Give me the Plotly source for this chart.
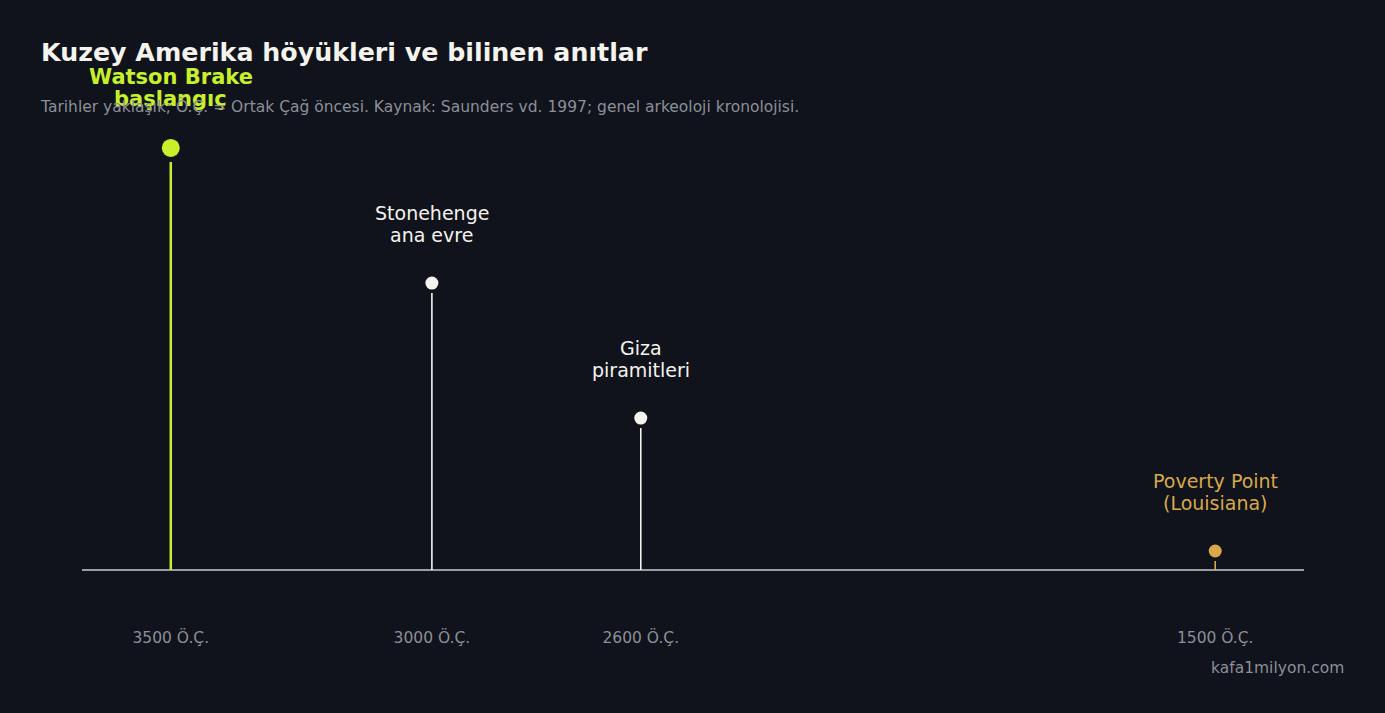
import plotly.graph_objects as go

# ---- data ----
sites = ["Watson Brake<br>başlangıç", "Stonehenge<br>ana evre", "Giza<br>piramitleri", "Poverty Point<br>(Louisiana)"]
years_bce = [3500, 3000, 2600, 1500]
levels = [1.0, 0.68, 0.36, 0.045]
tick_years = [3500, 3000, 2600, 1500]
tick_labels = ["3500 Ö.Ç.", "3000 Ö.Ç.", "2600 Ö.Ç.", "1500 Ö.Ç."]
colors = ["#c8f02a", "#f5f3ee", "#f5f3ee", "#d9a84a"]

BG = "#10131b"
W, H = 1385, 713
ML, MR, MT, MB = 82, 81, 100, 87
plot_w = W - ML - MR
plot_h = H - MT - MB
y0, y1 = -0.1327, 1.1137
px_per_unit = plot_h / (y1 - y0)


def px_to_paper(px, py):
    return (px - ML) / plot_w, (H - MB - py) / plot_h


xs = [-y for y in years_bce]
fig = go.Figure()

# stems
for i, (x, lv, c) in enumerate(zip(xs, levels, colors)):
    big = i == 0
    gap_px = 14 if big else 10
    top = lv - gap_px / px_per_unit
    if top < 0:
        top = lv
    fig.add_shape(type="line", x0=x, x1=x, y0=0, y1=top, xref="x", yref="y",
                  line=dict(color=c, width=2.5 if big else 1.6), layer="above")

# baseline
fig.add_shape(type="line", x0=0, x1=1, xref="paper", y0=0, y1=0, yref="y",
              line=dict(color="#9a9ca3", width=2), layer="below")

# dots
fig.add_trace(go.Scatter(
    x=xs, y=levels, mode="markers",
    marker=dict(size=[18, 13, 13, 13], color=colors, opacity=1, line=dict(width=0)),
    hoverinfo="skip", showlegend=False))

# labels (one annotation per line for tight line spacing)
for i, (x, lv, c, s) in enumerate(zip(xs, levels, colors, sites)):
    big = i == 0
    lines = s.split("<br>")
    n = len(lines)
    base = 49 if big else 48
    for k, ln in enumerate(lines):
        fig.add_annotation(x=x, y=lv, xref="x", yref="y", text=f"<b>{ln}</b>" if big else ln,
                           showarrow=False, yanchor="middle", yshift=base + 22 * (n - 1 - k),
                           font=dict(family="DejaVu Sans", size=21 if big else 19, color=c),
                           align="center")

# title / subtitle / watermark
tx, ty = px_to_paper(39, 52)
fig.add_annotation(x=tx, y=ty, xref="paper", yref="paper", xanchor="left", yanchor="middle",
                   text="<b>Kuzey Amerika höyükleri ve bilinen anıtlar</b>", showarrow=False,
                   font=dict(family="DejaVu Sans", size=25.3, color="#f5f3ee"))
sx, sy = px_to_paper(38, 106)
fig.add_annotation(x=sx, y=sy, xref="paper", yref="paper", xanchor="left", yanchor="middle",
                   text="Tarihler yaklaşık; Ö.Ç. = Ortak Çağ öncesi. Kaynak: Saunders vd. 1997; genel arkeoloji kronolojisi.",
                   showarrow=False, font=dict(family="DejaVu Sans", size=15.5, color="#8b8f98"))
wx, wy = px_to_paper(1346, 668)
fig.add_annotation(x=wx, y=wy, xref="paper", yref="paper", xanchor="right", yanchor="middle",
                   text="kafa1milyon.com", showarrow=False,
                   font=dict(family="DejaVu Sans", size=15.5, color="#8b8f98"))

fig.update_layout(
    width=W, height=H, paper_bgcolor=BG, plot_bgcolor=BG,
    margin=dict(l=ML, r=MR, t=MT, b=MB),
    xaxis=dict(range=[-3670, -1330], tickvals=[-t for t in tick_years], ticktext=tick_labels,
               showgrid=False, zeroline=False, showline=False, ticks="",
               tickfont=dict(family="DejaVu Sans", size=15.5, color="#8b8f98")),
    yaxis=dict(range=[y0, y1], visible=False, showgrid=False, zeroline=False),
    showlegend=False,
)
fig.write_html("out.html", config={"displayModeBar": False},
               post_script=f"document.body.style.margin='0';document.body.style.background='{BG}';")
